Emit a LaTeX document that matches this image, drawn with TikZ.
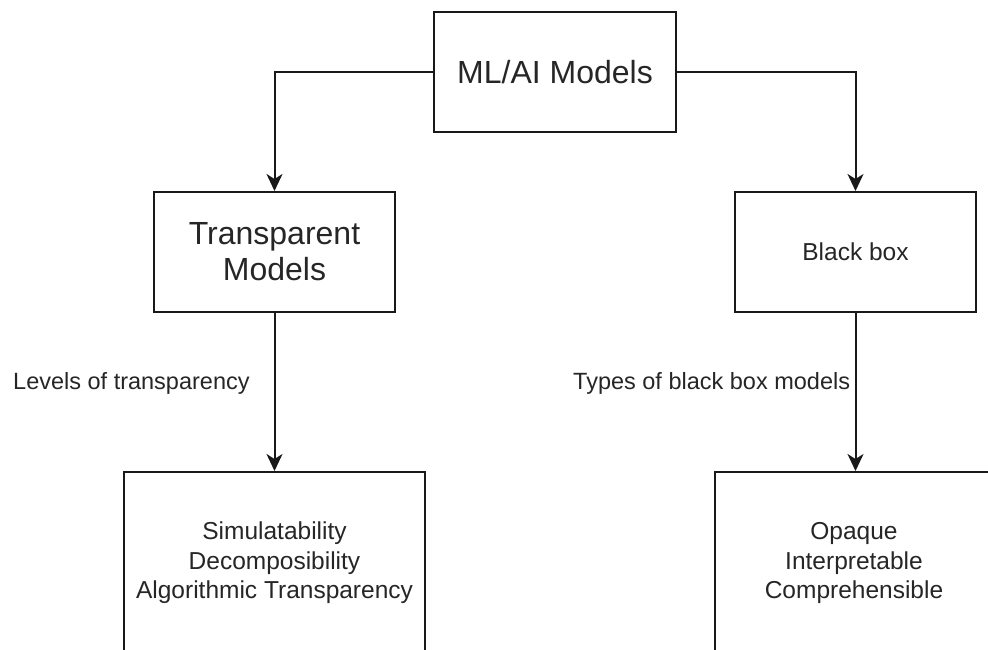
\documentclass[tikz,border=0pt]{standalone}
\usepackage{fontspec}
\setmainfont{Liberation Sans}
\usetikzlibrary{arrows.meta}
\begin{document}
\begin{tikzpicture}[x=1pt,y=-1pt,
  boxn/.style={draw=black!90,line width=2pt,fill=white,inner sep=0pt,align=center,text=black!85},
  arr/.style={draw=black!90,line width=2pt,-{Stealth[length=17pt,width=16pt,inset=5pt]}},
  lbl/.style={inner sep=0pt,anchor=west,font=\fontsize{23.5}{28}\selectfont,text=black!85}]
\useasboundingbox[fill=white] (0,0) rectangle (988,650);
\node[boxn,minimum width=242pt,minimum height=120pt,font=\fontsize{32}{38}\selectfont] (ml) at (555,72) {ML/AI Models};
\node[boxn,minimum width=241pt,minimum height=120pt,font=\fontsize{32}{36}\selectfont] (tm) at (274.5,252) {Transparent\\Models};
\node[boxn,minimum width=241pt,minimum height=120pt,font=\fontsize{24.5}{29}\selectfont] (bb) at (855.5,252) {Black box};
\node[boxn,minimum width=301pt,minimum height=182pt,font=\fontsize{24.5}{29.5}\selectfont] (lv) at (274.5,563) {Simulatability\\Decomposibility\\Algorithmic Transparency};
\node[boxn,minimum width=278pt,minimum height=182pt,font=\fontsize{24.5}{29.5}\selectfont] (ty) at (854,563) {Opaque\\Interpretable\\Comprehensible};
\draw[arr] (ml.west) -| (tm.north);
\draw[arr] (ml.east) -| (bb.north);
\draw[arr] (tm.south) -- (tm.south |- lv.north);
\draw[arr] (bb.south) -- (bb.south |- ty.north);
\node[lbl] (l1) at (13,383) {Levels of transparency};
\node[lbl] (l2) at (573,383) {Types of black box models};
\end{tikzpicture}
\end{document}
